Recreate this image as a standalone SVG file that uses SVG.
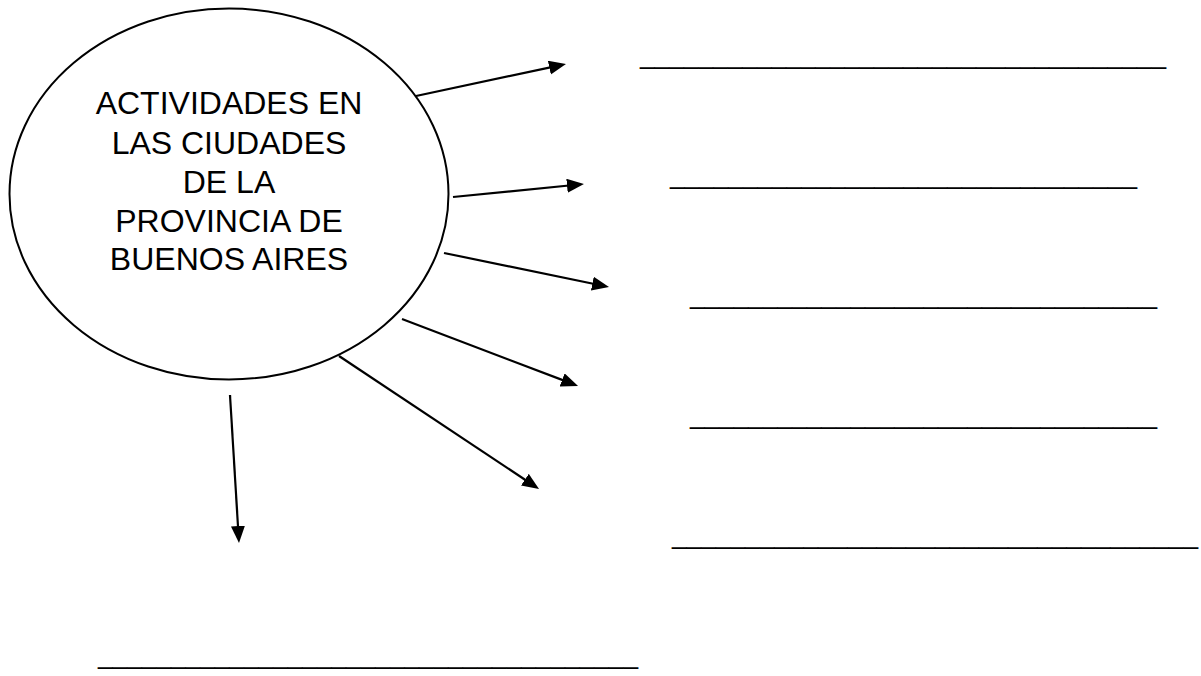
<svg xmlns="http://www.w3.org/2000/svg" width="1201" height="676" viewBox="0 0 1201 676">
<style>
.lbl{font-family:"Liberation Sans",Arial,sans-serif;font-size:32px;fill:#000;text-anchor:middle}
.blank{font-family:"Liberation Sans",Arial,sans-serif;font-size:26.4px;fill:#000}
.conn{stroke:#000;stroke-width:2.2;fill:none;marker-end:url(#ah)}
</style>
<defs>
<marker id="ah" markerUnits="userSpaceOnUse" markerWidth="18" markerHeight="15" refX="7" refY="7" orient="auto">
<path d="M0,0 L17,7 L0,14 z" fill="#000"/>
</marker>
</defs>
<rect width="1201" height="676" fill="#fff"/>
<g id="center">
<ellipse cx="229" cy="194" rx="219.5" ry="185.5" fill="#fff" stroke="#000" stroke-width="2"/>
<text class="lbl" x="229" y="114">ACTIVIDADES EN</text>
<text class="lbl" x="229" y="154">LAS CIUDADES</text>
<text class="lbl" x="229" y="193">DE LA</text>
<text class="lbl" x="229" y="232">PROVINCIA DE</text>
<text class="lbl" x="229" y="270">BUENOS AIRES</text>
</g>
<g id="connectors">
<line class="conn" x1="416" y1="96" x2="556.2" y2="66.1"/>
<line class="conn" x1="453" y1="197" x2="574" y2="185"/>
<line class="conn" x1="444" y1="253" x2="599.2" y2="285"/>
<line class="conn" x1="402" y1="319" x2="568.7" y2="382.4"/>
<line class="conn" x1="339" y1="356" x2="530.7" y2="483.5"/>
<line class="conn" x1="230" y1="395" x2="238.4" y2="533"/>
</g>
<g id="blank1"><text class="blank" x="640" y="63.5" textLength="526" lengthAdjust="spacingAndGlyphs">____________________________________</text></g>
<g id="blank2"><text class="blank" x="670" y="183.5" textLength="467" lengthAdjust="spacingAndGlyphs">________________________________</text></g>
<g id="blank3"><text class="blank" x="690" y="303.5" textLength="467" lengthAdjust="spacingAndGlyphs">________________________________</text></g>
<g id="blank4"><text class="blank" x="690" y="423.5" textLength="467" lengthAdjust="spacingAndGlyphs">________________________________</text></g>
<g id="blank5"><text class="blank" x="672" y="543.5" textLength="526" lengthAdjust="spacingAndGlyphs">____________________________________</text></g>
<g id="blank6"><text class="blank" x="98" y="663.5" textLength="540" lengthAdjust="spacingAndGlyphs">_____________________________________</text></g>
</svg>
